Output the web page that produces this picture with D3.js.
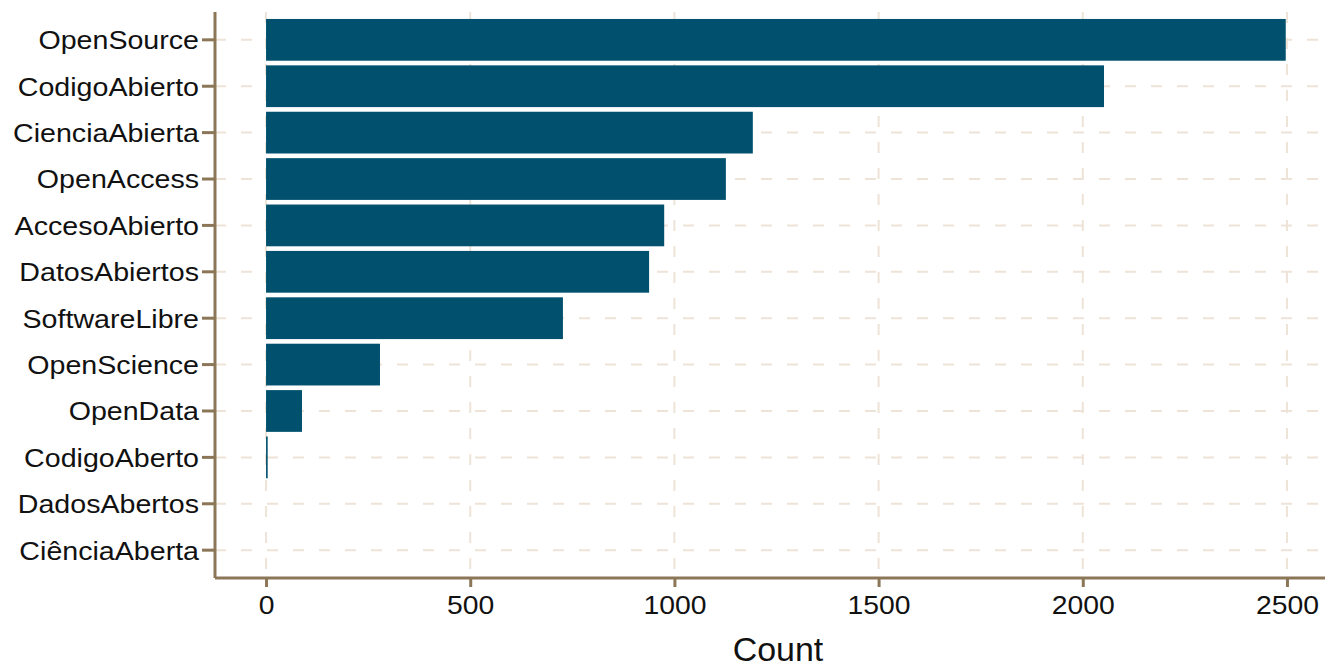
<!DOCTYPE html>
<html><head><meta charset="utf-8">
<script src="https://cdn.jsdelivr.net/npm/d3@7"></script>
<style>body{margin:0;background:#fff}svg{display:block}</style>
</head><body>
<svg id="c" width="1325" height="669"></svg>
<script>
const categories = ["OpenSource","CodigoAbierto","CienciaAbierta","OpenAccess","AccesoAbierto","DatosAbiertos","SoftwareLibre","OpenScience","OpenData","CodigoAberto","DadosAbertos","CiênciaAberta"];
const counts = [2497, 2052, 1192, 1126, 975, 938, 727, 279, 88, 4, 0, 0];
const xTicks = [0, 500, 1000, 1500, 2000, 2500];
const xTitle = "Count";

const svg = d3.select("#c");
const L = 215, R = 1338, T = 12, B = 578;
const font = "'Liberation Sans', Arial, sans-serif";
const axisCol = "#8B7758", gridCol = "#EEE3D7", barCol = "#00506E";

const x = d3.scaleLinear().domain([-125, 2625]).range([L, R]);
const yb = d3.scaleBand().domain(categories).range([T, B]).paddingOuter(0.1).paddingInner(0);
const step = yb.step();
const yc = c => yb(c) + yb.bandwidth()/2;

const g = svg.append("g");
g.selectAll(".gx").data(xTicks).join("line")
  .attr("x1", d => x(d)).attr("x2", d => x(d)).attr("y1", T).attr("y2", B)
  .attr("stroke", gridCol).attr("stroke-width", 2).attr("stroke-dasharray", "11,15");
g.selectAll(".gy").data(categories).join("line")
  .attr("x1", L).attr("x2", 1325).attr("y1", d => yc(d)).attr("y2", d => yc(d))
  .attr("stroke", gridCol).attr("stroke-width", 2).attr("stroke-dasharray", "11,15");

g.selectAll(".bar").data(categories.map((c,i)=>({c, v: counts[i]}))).join("rect")
  .attr("x", x(0)).attr("width", d => Math.max(0, x(d.v) - x(0)))
  .attr("y", d => yc(d.c) - step*0.45).attr("height", step*0.9)
  .attr("fill", barCol);

const xAxis = d3.axisBottom(x).tickValues(xTicks).tickFormat(d3.format("d")).tickSize(9).tickPadding(9).tickSizeOuter(0);
const xg = svg.append("g").attr("transform", `translate(0,${B})`).call(xAxis);
xg.select(".domain").attr("d", `M${L},0H1325`);
const yAxis = d3.axisLeft(yb).tickSize(13).tickPadding(3).tickSizeOuter(0);
const yg = svg.append("g").attr("transform", `translate(${L},0)`).call(yAxis);
yg.select(".domain").attr("d", `M0,${T}V${B}`);
[xg, yg].forEach(a => {
  a.selectAll(".domain").attr("stroke", axisCol).attr("stroke-width", 3).attr("fill","none");
  a.selectAll(".tick line").attr("stroke", axisCol).attr("stroke-width", 3);
  a.selectAll("text").attr("fill", "#111").style("font-family", font).style("font-size", "26px");
});
yg.selectAll("text").attr("x", 0).attr("dy", "0.36em").attr("transform", "translate(-16,0) scale(1.1,1)");
xg.selectAll("text").attr("y", 0).attr("dy", "0.71em").attr("transform", "translate(0,18) scale(1.09,1)");

svg.append("text").attr("x", 778).attr("y", 661)
  .attr("text-anchor", "middle").style("font-family", font).style("font-size", "33px")
  .attr("transform", "translate(778,0) scale(1.03,1) translate(-778,0)")
  .attr("fill", "#111").text(xTitle);
</script>
</body></html>
